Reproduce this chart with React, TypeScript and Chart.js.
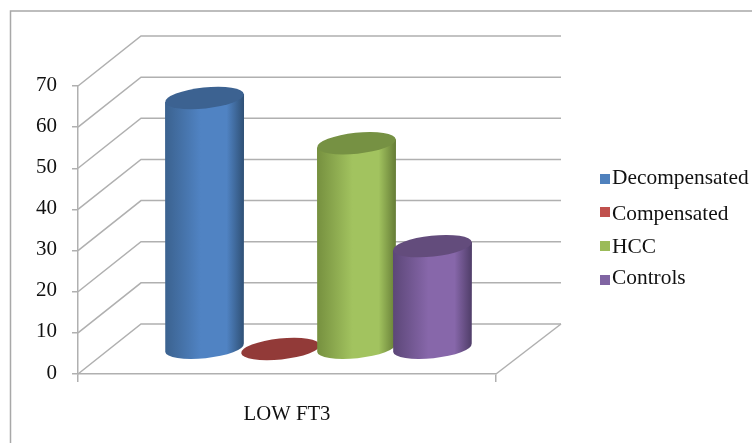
import React, { useEffect, useRef } from "react";
import { Chart, registerables } from "chart.js";

Chart.register(...registerables);

const categories = ["LOW FT3"];
const seriesNames = ["Decompensated", "Compensated", "HCC", "Controls"];
const decompensated = [61];
const compensated = [0];
const hcc = [50];
const controls = [25];
const seriesValues = [decompensated, compensated, hcc, controls];
const swatchColors = ["#4f81bd", "#c0504d", "#9bbb59", "#8064a2"];
const sideEdgeLeft = ["#3b628f", "#8c3836", "#76903f", "#5c4778"];
const sideCenter = ["#5083c3", "#c0504d", "#a2c35f", "#8767aa"];
const sideEdgeRight = ["#2f5075", "#7a302e", "#657c36", "#4f3d68"];
const capColors = ["#3c6291", "#923a38", "#769143", "#634c7c"];

const FONT = "'Liberation Serif', serif";
const LINE = "#b0b0b0";
const WALL_DX = 63;
const WALL_DY = -50;
const WALL_MID_DX = 31;
const WALL_MID_DY = -25;
const BACK_RIGHT = 561;
const CAP_RY = 10.5;
const CAP_TILT = (-6 * Math.PI) / 180;
const LEGEND_ROWS = [
  { swatch: 174, text: 178 },
  { swatch: 207, text: 214 },
  { swatch: 241, text: 247 },
  { swatch: 275, text: 278 },
];

// Frame, side wall, back wall and floor of the 3D box.
const boxPlugin = {
  id: "box",
  beforeDraw(chart: any) {
    const { ctx, scales } = chart;
    const y = scales.y;
    const left = chart.chartArea.left;
    const right = chart.chartArea.right;
    ctx.save();
    ctx.fillStyle = "#ffffff";
    ctx.fillRect(0, 0, chart.width, chart.height);
    ctx.strokeStyle = "#a8a8a8";
    ctx.lineWidth = 1.5;
    ctx.beginPath();
    ctx.moveTo(10.5, chart.height);
    ctx.lineTo(10.5, 11);
    ctx.lineTo(chart.width, 11);
    ctx.stroke();
    ctx.strokeStyle = LINE;
    ctx.lineWidth = 1.5;
    y.ticks.forEach((t: any) => {
      const py = y.getPixelForValue(t.value);
      ctx.beginPath();
      ctx.moveTo(left, py);
      ctx.lineTo(left + WALL_DX, py + WALL_DY);
      ctx.lineTo(BACK_RIGHT, py + WALL_DY);
      ctx.stroke();
    });
    const floor = y.getPixelForValue(0);
    ctx.beginPath();
    ctx.moveTo(right, floor);
    ctx.lineTo(BACK_RIGHT, floor + WALL_DY);
    ctx.stroke();
    ctx.restore();
  },
};

// Replaces the flat bars with shaded cylinders standing mid-way into the box.
const cylinderPlugin = {
  id: "cylinders",
  beforeDatasetsDraw(chart: any) {
    const { ctx } = chart;
    chart.data.datasets.forEach((_: any, i: number) => {
      chart.getDatasetMeta(i).data.forEach((bar: any) => {
        const { x, y, base, width } = bar.getProps(["x", "y", "base", "width"], true);
        const cx = x + WALL_MID_DX + 0.5;
        const top = y + WALL_MID_DY;
        const bottom = base + WALL_MID_DY - 0.5;
        const rx = width / 2 + 1.5;
        const dy = rx * Math.sin(CAP_TILT);
        ctx.save();
        if (bottom - top > 1) {
          const g = ctx.createLinearGradient(cx - rx, 0, cx + rx, 0);
          g.addColorStop(0, sideEdgeLeft[i]);
          g.addColorStop(0.45, sideCenter[i]);
          g.addColorStop(0.78, sideCenter[i]);
          g.addColorStop(1, sideEdgeRight[i]);
          ctx.fillStyle = g;
          ctx.beginPath();
          ctx.ellipse(cx, bottom, rx, CAP_RY, CAP_TILT, 0, Math.PI);
          ctx.lineTo(cx - rx, top - dy);
          ctx.lineTo(cx + rx, top + dy);
          ctx.closePath();
          ctx.fill();
        }
        ctx.fillStyle = capColors[i];
        ctx.beginPath();
        ctx.ellipse(cx, top, rx, CAP_RY, CAP_TILT, 0, Math.PI * 2);
        ctx.fill();
        ctx.restore();
      });
    });
    return false;
  },
};

// Legend rows sit at slightly uneven heights, so they are laid out by hand.
const keyPlugin = {
  id: "key",
  afterDraw(chart: any) {
    const { ctx } = chart;
    ctx.save();
    ctx.font = `21.4px ${FONT}`;
    ctx.textBaseline = "middle";
    chart.data.datasets.forEach((ds: any, i: number) => {
      ctx.fillStyle = swatchColors[i];
      ctx.fillRect(600, LEGEND_ROWS[i].swatch, 10, 10);
      ctx.fillStyle = "#111111";
      ctx.fillText(ds.label, 612, LEGEND_ROWS[i].text);
    });
    ctx.restore();
  },
};

export default function App() {
  const canvasRef = useRef<HTMLCanvasElement>(null);

  useEffect(() => {
    const chart = new Chart(canvasRef.current!, {
      type: "bar",
      data: {
        labels: categories,
        datasets: seriesNames.map((label, i) => ({
          label,
          data: seriesValues[i],
          backgroundColor: swatchColors[i],
          barPercentage: 1,
          categoryPercentage: 0.727,
        })),
      },
      options: {
        responsive: false,
        animation: false,
        layout: { padding: { left: 0, top: 86, right: 256, bottom: 0 } },
        plugins: { legend: { display: false }, tooltip: { enabled: false } },
        scales: {
          x: {
            afterFit: (s: any) => {
              s.height = 69;
            },
            grid: {
              drawOnChartArea: false,
              drawTicks: true,
              tickLength: 8,
              color: LINE,
              lineWidth: 1.5,
            },
            border: { color: LINE, width: 1.5 },
            ticks: {
              color: "#111111",
              padding: 20,
              font: { family: FONT, size: 20.7 },
            },
          },
          y: {
            min: 0,
            max: 70,
            afterFit: (s: any) => {
              s.width = 78;
            },
            grid: {
              drawOnChartArea: false,
              drawTicks: true,
              tickLength: 6,
              color: LINE,
              lineWidth: 1.5,
            },
            border: { color: LINE, width: 1.5 },
            ticks: {
              stepSize: 10,
              color: "#111111",
              padding: 15,
              labelOffset: -1,
              font: { family: FONT, size: 21 },
            },
          },
        },
      },
      plugins: [boxPlugin, cylinderPlugin, keyPlugin],
    });
    return () => chart.destroy();
  }, []);

  return (
    <div style={{ position: "absolute", left: 0, top: 0, width: 752, height: 443 }}>
      <canvas ref={canvasRef} width={752} height={443} style={{ display: "block" }} />
    </div>
  );
}
